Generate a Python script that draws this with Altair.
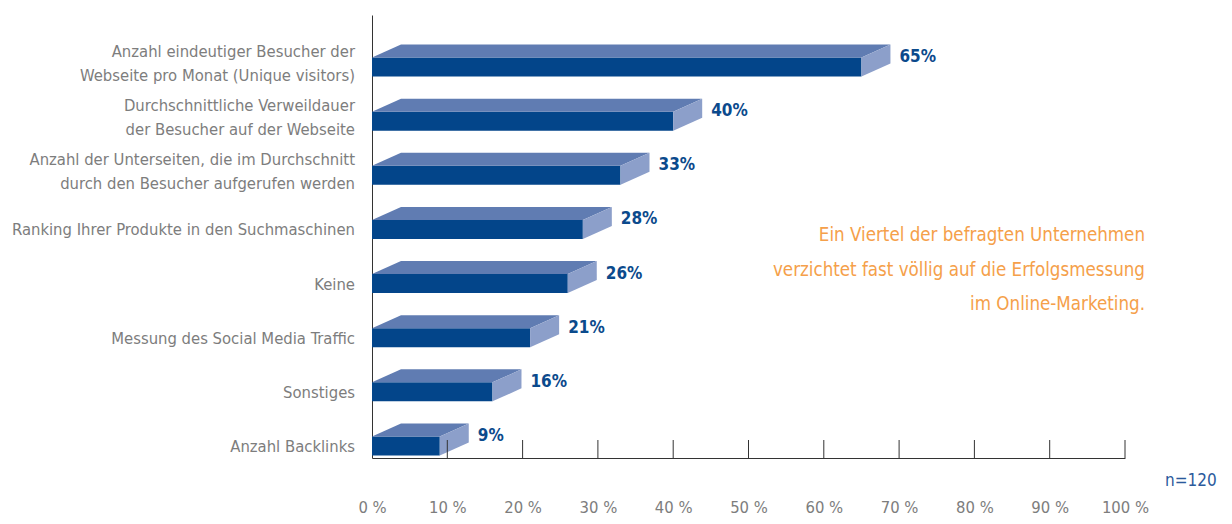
import altair as alt
import pandas as pd

# ---------------- data ----------------
categories = [
    "Anzahl eindeutiger Besucher der\nWebseite pro Monat (Unique visitors)",
    "Durchschnittliche Verweildauer\nder Besucher auf der Webseite",
    "Anzahl der Unterseiten, die im Durchschnitt\ndurch den Besucher aufgerufen werden",
    "Ranking Ihrer Produkte in den Suchmaschinen",
    "Keine",
    "Messung des Social Media Traffic",
    "Sonstiges",
    "Anzahl Backlinks",
]
values = [65, 40, 33, 28, 26, 21, 16, 9]
tick_values = [0, 10, 20, 30, 40, 50, 60, 70, 80, 90, 100]
note_text = "Ein Viertel der befragten Unternehmen\nverzichtet fast völlig auf die Erfolgsmessung\nim Online-Marketing."
sample_text = "n=120"

# ---------------- styling / geometry ----------------
W, H = 753, 443
PX_PER_PCT = W / 100.0
ROW_STEP = 54.14          # px between rows
FIRST_ROW = 52.0          # px from top to first bar front centre
FRONT_H = 19.0 / ROW_STEP # front face height in row units
DX = 29.0 / PX_PER_PCT    # 3D depth in % units
DY = 13.0 / ROW_STEP      # 3D depth in row units
Y_DOMAIN = [-FIRST_ROW / ROW_STEP, (H - FIRST_ROW) / ROW_STEP]

FRONT = "#03458a"
TOP = "#607cb2"
SIDE = "#8c9fca"
VAL_COL = "#0b4a8c"
GRAY = "#7d7d7d"
ORANGE = "#f5a04a"
FONT = "'Liberation Sans Narrow', 'DejaVu Sans Condensed', sans-serif"

yscale = alt.Scale(domain=Y_DOMAIN, reverse=True, nice=False, zero=False)
xscale = alt.Scale(domain=[0, 100], nice=False)

rows = list(range(len(values)))
front_df = pd.DataFrame({
    "cat": categories, "row": rows, "v": values,
    "zero": [0] * len(values),
    "y0": [r - FRONT_H / 2 for r in rows],
    "y1": [r + FRONT_H / 2 for r in rows],
    "lab": [f"{v}%" for v in values],
    "vx": [v + DX for v in values],
    "single": ["\n" not in c for c in categories],
})

top_recs, side_recs = [], []
for r, v in zip(rows, values):
    t = r - FRONT_H / 2
    b = r + FRONT_H / 2
    top_recs += [
        {"id": r, "x": 0, "ya": t, "yb": t},
        {"id": r, "x": DX, "ya": t, "yb": t - DY},
        {"id": r, "x": v, "ya": t, "yb": t - DY},
        {"id": r, "x": v + DX, "ya": t - DY, "yb": t - DY},
    ]
    side_recs += [
        {"id": r, "x": v, "ya": b, "yb": t},
        {"id": r, "x": v + DX, "ya": b - DY, "yb": t - DY},
    ]
top_df = pd.DataFrame(top_recs)
side_df = pd.DataFrame(side_recs)
tick_df = pd.DataFrame({"t": [t for t in tick_values if t > 0]})

front = alt.Chart(front_df).mark_rect(color=FRONT).encode(
    x=alt.X("zero:Q", scale=xscale,
            axis=alt.Axis(values=tick_values, labelExpr="datum.value + ' %'", ticks=False,
                          grid=False, domainColor="#333333", labelColor=GRAY,
                          labelFont=FONT, labelFontSize=16.5, labelPadding=41,
                          labelOverlap=False, labelFlush=False, labelBaseline="top",
                          title=None)),
    x2="v:Q",
    y=alt.Y("y0:Q", scale=yscale,
            axis=alt.Axis(labels=False, ticks=False, grid=False, domainColor="#333333", title=None)),
    y2="y1:Q",
)

top = alt.Chart(top_df).mark_area(color=TOP, orient="vertical").encode(
    x=alt.X("x:Q", scale=xscale),
    y=alt.Y("ya:Q", scale=yscale),
    y2="yb:Q",
    detail="id:N",
)

side = alt.Chart(side_df).mark_area(color=SIDE, orient="vertical").encode(
    x=alt.X("x:Q", scale=xscale),
    y=alt.Y("ya:Q", scale=yscale),
    y2="yb:Q",
    detail="id:N",
)

vlabels = alt.Chart(front_df).mark_text(
    align="left", baseline="middle", dx=9, dy=-10, font=FONT, fontSize=17,
    fontWeight="bold", color=VAL_COL,
).encode(x=alt.X("vx:Q", scale=xscale), y=alt.Y("row:Q", scale=yscale), text="lab:N")

cat_single = alt.Chart(front_df).transform_filter("datum.single").mark_text(
    align="right", baseline="middle", dy=1, font=FONT, fontSize=16.5, color=GRAY,
).encode(x=alt.value(-17), y=alt.Y("row:Q", scale=yscale), text="cat:N")

cat_multi = alt.Chart(front_df).transform_filter("!datum.single").mark_text(
    align="right", baseline="middle", dy=-15, font=FONT, fontSize=16.5, color=GRAY,
    lineBreak="\n", lineHeight=23.5,
).encode(x=alt.value(-17), y=alt.Y("row:Q", scale=yscale), text="cat:N")

ticks = alt.Chart(tick_df).mark_rule(color="#333333", strokeWidth=1).encode(
    x=alt.X("t:Q", scale=xscale), y=alt.value(H - 18), y2=alt.value(H),
)

note = alt.Chart(pd.DataFrame({"t": [note_text]})).mark_text(
    align="right", baseline="middle", font=FONT, fontSize=18.6, color=ORANGE,
    lineBreak="\n", lineHeight=34.5,
).encode(x=alt.value(773), y=alt.value(220), text="t:N")

sample = alt.Chart(pd.DataFrame({"t": [sample_text]})).mark_text(
    align="left", baseline="middle", font=FONT, fontSize=17, color="#2b5a9c",
).encode(x=alt.value(793), y=alt.value(466), text="t:N")

chart = alt.layer(front, top, side, ticks, vlabels, cat_single, cat_multi, note, sample).properties(
    width=W, height=H,
    autosize=alt.AutoSizeParams(type="none"),
    padding={"left": 364, "top": 7, "right": 99, "bottom": 58},
    background="white",
).configure_view(stroke=None)

chart.save("out.html", embed_options={"renderer": "svg", "actions": False})
